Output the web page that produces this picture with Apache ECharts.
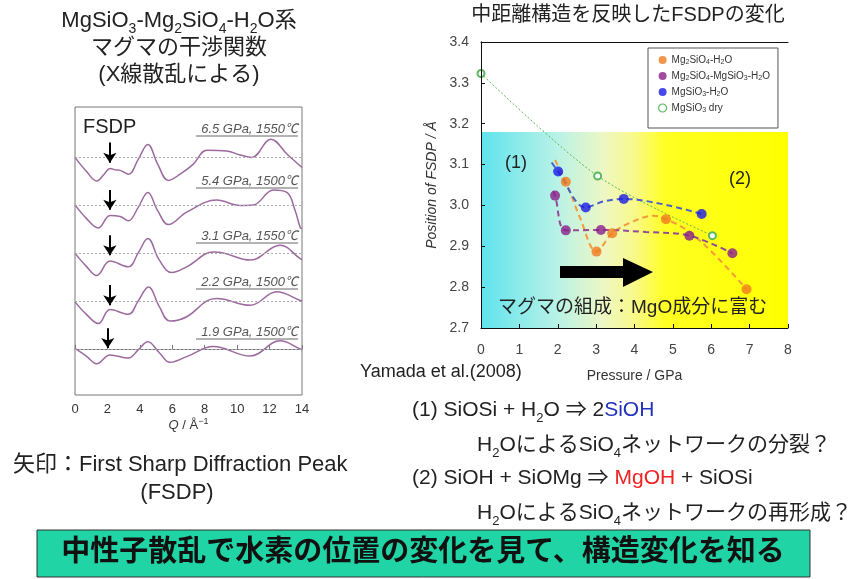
<!DOCTYPE html>
<html>
<head>
<meta charset="utf-8">
<script src="https://cdn.jsdelivr.net/npm/echarts@6/dist/echarts.min.js"></script>
<style>
  html, body { margin: 0; padding: 0; background: #fff; }
  #main { width: 851px; height: 579px; }
</style>
</head>
<body>
<div id="main"></div>
<script>
// ---- 左：干渉関数 (Q, 基線からのずれ) ----
var qTicks = [0, 2, 4, 6, 8, 10, 12, 14];
var curveLabels = ['6.5 GPa, 1550℃', '5.4 GPa, 1500℃', '3.1 GPa, 1550℃', '2.2 GPa, 1500℃', '1.9 GPa, 1500℃'];
var curveOffsets = [4, 3, 2, 1, 0];
var curve65 = [[0,-0.01],[0.7,-0.3],[1.34,-0.5],[1.8,-0.36],[2.16,-0.24],[2.5,-0.27],[2.78,-0.28],[3.3,-0.36],[3.9,-0.05],[4.49,0.26],[5.1,-0.15],[5.76,-0.49],[6.48,-0.36],[7.3,-0.15],[8.13,0.14],[9.36,0.125],[10.19,0.04],[10.9,-0.01],[12.08,0.37],[13.1,0.05],[14,-0.22]];
var curve54 = [[0,0],[0.7,-0.28],[1.44,-0.48],[2.16,-0.22],[2.78,-0.24],[3.29,-0.33],[3.9,-0.05],[4.49,0.26],[5.1,-0.12],[5.76,-0.41],[6.89,-0.15],[8.74,0.1],[10.19,-0.01],[11.0,0],[12.24,0.31],[13.07,0.26],[13.58,-0.12],[13.89,-0.47],[14,-0.5]];
var curve31 = [[0,-0.01],[0.7,-0.28],[1.34,-0.47],[2.16,-0.17],[3.29,-0.29],[3.9,0.0],[4.49,0.3],[5.2,-0.15],[5.97,-0.41],[6.89,-0.29],[8.54,0.02],[9.15,0],[10.8,-0.15],[12.65,0.16],[13.89,-0.12],[14,-0.14]];
var curve22 = [[0,-0.02],[0.7,-0.28],[1.44,-0.47],[2.16,-0.18],[3.29,-0.28],[3.9,0.0],[4.53,0.29],[5.2,-0.12],[5.86,-0.42],[6.89,-0.33],[8.13,0],[8.74,0.05],[10.8,-0.09],[12.45,0.19],[13.89,0.01],[14,0]];
var curve19 = [[0,0.01],[0.7,-0.15],[1.34,-0.31],[2.16,-0.125],[3.29,-0.19],[3.9,-0.02],[4.49,0.15],[5.2,-0.08],[5.86,-0.28],[6.89,-0.16],[8.54,0.05],[10.8,-0.15],[12.65,0.17],[13.89,0],[14,-0.01]];
var curves = [curve65, curve54, curve31, curve22, curve19];
// FSDP矢印 (Q, 上端, 下端)
var arrowQ = [2.15, 2.15, 2.15, 2.15, 2.02];
var arrowFrom = [0.30, 0.31, 0.37, 0.33, 0.43];
var arrowTo = [-0.12, -0.10, -0.05, -0.09, 0.02];

// ---- 右：FSDPの位置 ----
var pressTicks = [0, 1, 2, 3, 4, 5, 6, 7, 8];
var fsdpTicks = [2.7, 2.8, 2.9, 3.0, 3.1, 3.2, 3.3, 3.4];
var ptsMg2 = [[2.21,3.058],[3.01,2.887],[3.42,2.932],[4.82,2.966],[6.92,2.795]];
var ptsMix = [[1.93,3.024],[2.21,2.939],[3.125,2.940],[5.43,2.926],[6.55,2.883]];
var ptsMgH = [[2.01,3.083],[2.73,2.995],[3.72,3.016],[5.75,2.979]];
var ptsDry = [[0,3.323],[3.04,3.072],[6.03,2.926]];
var fitMg2 = [[1.93,3.111],[2.21,3.058],[2.58,2.97],[3.01,2.887],[3.42,2.932],[3.97,2.961],[4.49,2.975],[4.82,2.966],[5.36,2.94],[6.05,2.883],[6.92,2.795]];
var fitMix = [[1.88,3.035],[1.93,3.024],[2.21,2.939],[3.125,2.940],[4.3,2.935],[5.43,2.926],[6.55,2.883]];
var fitMgH = [[1.84,3.105],[2.01,3.083],[2.73,2.995],[3.2,3.01],[3.72,3.016],[5.75,2.979]];
var shadeTop = 3.18;

var FF = "'Liberation Sans', Arial, 'Noto Sans CJK JP', sans-serif";
var chart = echarts.init(document.getElementById('main'));

// 下付き文字つきテキスト
function txt(x, y, text, size, opt) {
  opt = opt || {};
  var sub = Math.round(size * 0.62);
  return {
    type: 'text', x: x, y: y, z: 50,
    style: {
      text: text, fontSize: size, fontFamily: FF, fill: opt.fill || '#222',
      fontStyle: opt.italic ? 'italic' : 'normal', fontWeight: opt.bold ? 'bold' : 'normal',
      align: opt.align || 'left', textAlign: opt.align || 'left',
      verticalAlign: 'middle', textVerticalAlign: 'middle',
      lineHeight: size + 8,
      rich: {
        s: { fontSize: sub, fontFamily: FF, verticalAlign: 'bottom', lineHeight: sub, fill: opt.fill || '#222' },
        b: { fontSize: size, fontFamily: FF, fill: '#2233bb' },
        r: { fontSize: size, fontFamily: FF, fill: '#ee2222' }
      }
    }
  };
}

var series = [];
curves.forEach(function (c, i) {
  var off = curveOffsets[i];
  series.push({
    type: 'line', xAxisIndex: 0, yAxisIndex: 0, smooth: 0.4, symbol: 'none',
    lineStyle: { color: '#9c6a9e', width: 1.5 },
    data: c.map(function (p) { return [p[0], p[1] + off]; }),
    markLine: {
      silent: true, animation: false, label: { show: false },
      data: [
        [{ coord: [0, off], symbol: 'none', lineStyle: { color: '#aaa', type: [2, 2], width: 1 } },
         { coord: [14, off], symbol: 'none' }],
        [{ coord: [arrowQ[i], off + arrowFrom[i]], symbol: 'none', lineStyle: { color: '#000', type: 'solid', width: 2 } },
         { coord: [arrowQ[i], off + arrowTo[i]], symbol: 'arrow', symbolSize: [10, 10] }]
      ]
    }
  });
});

function fitLine(data, color) {
  return {
    type: 'line', xAxisIndex: 1, yAxisIndex: 1, smooth: 0.35, symbol: 'none', z: 3,
    lineStyle: { color: color, width: 2, type: [6, 4] }, data: data
  };
}
function pts(name, data, color) {
  return {
    name: name, type: 'scatter', xAxisIndex: 1, yAxisIndex: 1, z: 4,
    symbolSize: 10, itemStyle: { color: color }, data: data
  };
}
series.push({
  name: 'MgSiO3 dry', type: 'line', xAxisIndex: 1, yAxisIndex: 1, smooth: 0.3, z: 3,
  symbol: 'emptyCircle', symbolSize: 7, showSymbol: true,
  lineStyle: { color: '#5cb85c', width: 1, type: [2, 2] },
  itemStyle: { color: '#5cb85c', borderWidth: 1 },
  data: ptsDry,
  markArea: {
    silent: true,
    itemStyle: {
      color: new echarts.graphic.LinearGradient(0, 0, 1, 0, [
        { offset: 0, color: '#5fe3ee' }, { offset: 0.25, color: '#b9f2e6' },
        { offset: 0.4, color: '#eef7c4' }, { offset: 0.5, color: '#f9f98a' },
        { offset: 0.6, color: '#ffff22' }, { offset: 1, color: '#ffff00' }
      ])
    },
    data: [[{ xAxis: 0, yAxis: 2.7 }, { xAxis: 8, yAxis: shadeTop }]]
  }
});
series.push(fitLine(fitMg2, '#f39a3c'));
series.push(fitLine(fitMix, '#944a94'));
series.push(fitLine(fitMgH, '#4a5fc8'));
series.push(pts('Mg2SiO4-H2O', ptsMg2, '#f07a1e'));
series.push(pts('Mg2SiO4-MgSiO3-H2O', ptsMix, '#8a1f8a'));
series.push(pts('MgSiO3-H2O', ptsMgH, '#1a1ae6'));

var option = {
  backgroundColor: '#fff',
  animation: false,
  grid: [
    { left: 75, right: 549, top: 107, bottom: 184, show: true, borderColor: '#777', borderWidth: 1 },
    { left: 481, right: 63, top: 42, bottom: 251 }
  ],
  legend: {
    left: 648, top: 48, orient: 'vertical', selectedMode: false,
    padding: [6, 8, 14, 10], itemGap: 4, itemWidth: 8, itemHeight: 8,
    backgroundColor: '#fff', borderColor: '#555', borderWidth: 1,
    textStyle: {
      fontSize: 10, color: '#333', fontFamily: FF, lineHeight: 12,
      rich: { s: { fontSize: 7, fontFamily: FF, verticalAlign: 'bottom', lineHeight: 7, color: '#333' } }
    },
    formatter: function (n) { return n.replace(/(\d)/g, '{s|$1}'); },
    data: [
      { name: 'Mg2SiO4-H2O', icon: 'circle' },
      { name: 'Mg2SiO4-MgSiO3-H2O', icon: 'circle' },
      { name: 'MgSiO3-H2O', icon: 'circle' },
      { name: 'MgSiO3 dry', icon: 'circle', itemStyle: { color: '#fff', borderColor: '#5cb85c', borderWidth: 1.2 } }
    ]
  },
  xAxis: [
    {
      gridIndex: 0, type: 'value', min: 0, max: 14, interval: 2,
      axisLine: { lineStyle: { color: '#777' } },
      axisTick: { inside: true, length: 4, lineStyle: { color: '#777' } },
      axisLabel: { fontSize: 13, color: '#333', margin: 8, fontFamily: FF },
      splitLine: { show: false },
      name: '{i|Q} / Å{p|−1}', nameLocation: 'middle', nameGap: 22,
      nameTextStyle: {
        fontSize: 13, color: '#333', fontFamily: FF, lineHeight: 16,
        rich: { i: { fontStyle: 'italic', fontSize: 13, fontFamily: FF }, p: { fontSize: 9, fontFamily: FF, verticalAlign: 'top', lineHeight: 9 } }
      }
    },
    {
      gridIndex: 1, type: 'value', min: 0, max: 8, interval: 1, z: 10,
      axisLine: { lineStyle: { color: '#111' } },
      axisTick: { inside: true, length: 4, lineStyle: { color: '#111' } },
      axisLabel: { fontSize: 14, color: '#444', margin: 15, fontFamily: FF },
      splitLine: { show: false },
      name: 'Pressure / GPa', nameLocation: 'middle', nameGap: 41,
      nameTextStyle: { fontSize: 14, color: '#333', fontFamily: FF }
    },
    {
      gridIndex: 1, type: 'value', min: 0, max: 8, position: 'top', z: 10,
      axisLine: { lineStyle: { color: '#111' } },
      axisTick: { show: false }, axisLabel: { show: false }, splitLine: { show: false }
    }
  ],
  yAxis: [
    { gridIndex: 0, type: 'value', min: -0.96, max: 5.04, show: false },
    {
      gridIndex: 1, type: 'value', min: 2.7, max: 3.4, interval: 0.1, z: 10,
      axisLine: { show: true, lineStyle: { color: '#111' } },
      axisTick: { show: true, inside: true, length: 4, lineStyle: { color: '#111' } },
      axisLabel: { fontSize: 14, color: '#444', margin: 12, fontFamily: FF, formatter: function (v) { return v.toFixed(1); } },
      splitLine: { show: false },
      name: 'Position of FSDP / Å', nameLocation: 'middle', nameGap: 42,
      nameTextStyle: { fontSize: 14, color: '#333', fontStyle: 'italic', fontFamily: FF }
    },
    {
      gridIndex: 1, type: 'value', min: 2.7, max: 3.4, position: 'right', z: 10,
      axisLine: { show: true, lineStyle: { color: '#111' } },
      axisTick: { show: false }, axisLabel: { show: false }, splitLine: { show: false }
    }
  ],
  series: series,
  graphic: []
};

// 注釈テキスト
var g = [];
g.push(txt(179, 21, 'MgSiO{s|3}-Mg{s|2}SiO{s|4}-H{s|2}O系', 22, { align: 'center' }));
g.push(txt(179, 48, 'マグマの干渉関数', 22, { align: 'center' }));
g.push(txt(179, 75, '(X線散乱による)', 22, { align: 'center' }));
g.push(txt(83, 127, 'FSDP', 20, {}));
var labelY = [129, 181, 236, 282, 332];
curveLabels.forEach(function (s, i) {
  g.push(txt(298, labelY[i], s, 13, { align: 'right', italic: true, fill: '#555' }));
  g.push({ type: 'line', z: 50, shape: { x1: 196, y1: labelY[i] + 7, x2: 298, y2: labelY[i] + 7 }, style: { stroke: '#666', lineWidth: 1 } });
});
g.push(txt(628, 15, '中距離構造を反映したFSDPの変化', 20, { align: 'center' }));
g.push(txt(516, 163, '(1)', 18, { align: 'center' }));
g.push(txt(740, 179, '(2)', 18, { align: 'center' }));
g.push({
  type: 'polygon', z: 50,
  shape: { points: [[560, 266], [623, 266], [623, 258], [653, 272], [623, 287], [623, 278], [560, 278]] },
  style: { fill: '#000' }
});
g.push(txt(498, 308, 'マグマの組成：MgO成分に富む', 19, {}));
g.push(txt(360, 372, 'Yamada et al.(2008)', 18, {}));
g.push(txt(412, 410, '(1) SiOSi + H{s|2}O ⇒ 2{b|SiOH}', 21, {}));
g.push(txt(477, 445, 'H{s|2}OによるSiO{s|4}ネットワークの分裂？', 21, {}));
g.push(txt(412, 478, '(2) SiOH + SiOMg ⇒ {r|MgOH} + SiOSi', 21, {}));
g.push(txt(477, 513, 'H{s|2}OによるSiO{s|4}ネットワークの再形成？', 21, {}));
g.push(txt(13, 465, '矢印：First Sharp Diffraction Peak', 22, {}));
g.push(txt(177, 493, '(FSDP)', 22, { align: 'center' }));
g.push({
  type: 'rect', z: 40,
  shape: { x: 37, y: 530, width: 773, height: 47 },
  style: { fill: '#21d4a5', stroke: '#333', lineWidth: 1 }
});
g.push(txt(423, 553, '中性子散乱で水素の位置の変化を見て、構造変化を知る', 29, { align: 'center', bold: true, fill: '#111' }));
option.graphic = g;

chart.setOption(option);
</script>
</body>
</html>
